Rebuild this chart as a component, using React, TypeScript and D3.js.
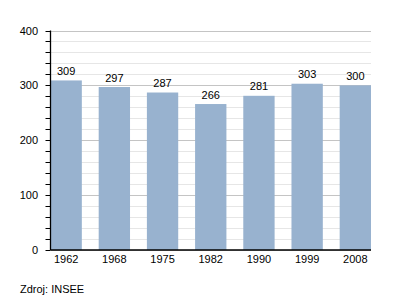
import React from "react";
import * as d3 from "d3";

const years = ["1962", "1968", "1975", "1982", "1990", "1999", "2008"];
const population = [309, 297, 287, 266, 281, 303, 300];
const majorTicks = [0, 100, 200, 300, 400];
const sourceLabel = "Zdroj: INSEE";

const W = 400;
const H = 300;
const left = 50.5;
const right = 371;
const top = 30.5;
const bottom = 250;

export default function App() {
  const x = d3.scaleBand<string>().domain(years).range([left, right]).paddingInner(0.35).paddingOuter(0);
  const y = d3.scaleLinear().domain([0, 400]).range([bottom, top]);
  const minor = d3.range(0, 401, 20);
  const font = "'Liberation Sans', Arial, sans-serif";
  return (
    <svg width={W} height={H} style={{ position: "absolute", left: 0, top: 0 }} fontFamily={font}>
      <rect width={W} height={H} fill="#fff" />
      {minor.map((v) => (
        <line key={"g" + v} x1={left} x2={right} y1={Math.round(y(v)) + 0.5} y2={Math.round(y(v)) + 0.5}
          stroke={v % 100 === 0 ? "#c4c4c4" : "#e6e6e6"} strokeWidth={1} />
      ))}
      {minor.map((v) => (
        <line key={"t" + v} x1={left - 5} x2={left} y1={Math.round(y(v)) + 0.5} y2={Math.round(y(v)) + 0.5}
          stroke="#000" strokeWidth={1} />
      ))}
      {years.map((yr, i) => (
        <rect key={yr} x={x(yr)!} y={y(population[i])} width={x.bandwidth()} height={bottom - y(population[i])} fill="#98b2cf" />
      ))}
      {years.map((yr, i) => (
        <text key={"l" + yr} x={x(yr)! + x.bandwidth() / 2} y={y(population[i]) - 5.5} textAnchor="middle" fontSize={11} fill="#000">
          {population[i]}
        </text>
      ))}
      <line x1={left} x2={left} y1={top} y2={bottom} stroke="#000" strokeWidth={1.3} />
      <line x1={left} x2={right} y1={bottom} y2={bottom} stroke="#000" strokeWidth={1.3} />
      {majorTicks.map((v) => (
        <text key={"y" + v} x={38} y={y(v) + 4} textAnchor="end" fontSize={11} fill="#000">{v}</text>
      ))}
      {years.map((yr) => (
        <text key={"x" + yr} x={x(yr)! + x.bandwidth() / 2} y={bottom + 13} textAnchor="middle" fontSize={11} fill="#000">{yr}</text>
      ))}
      <text x={20} y={293} fontSize={11} fill="#000">{sourceLabel}</text>
    </svg>
  );
}
